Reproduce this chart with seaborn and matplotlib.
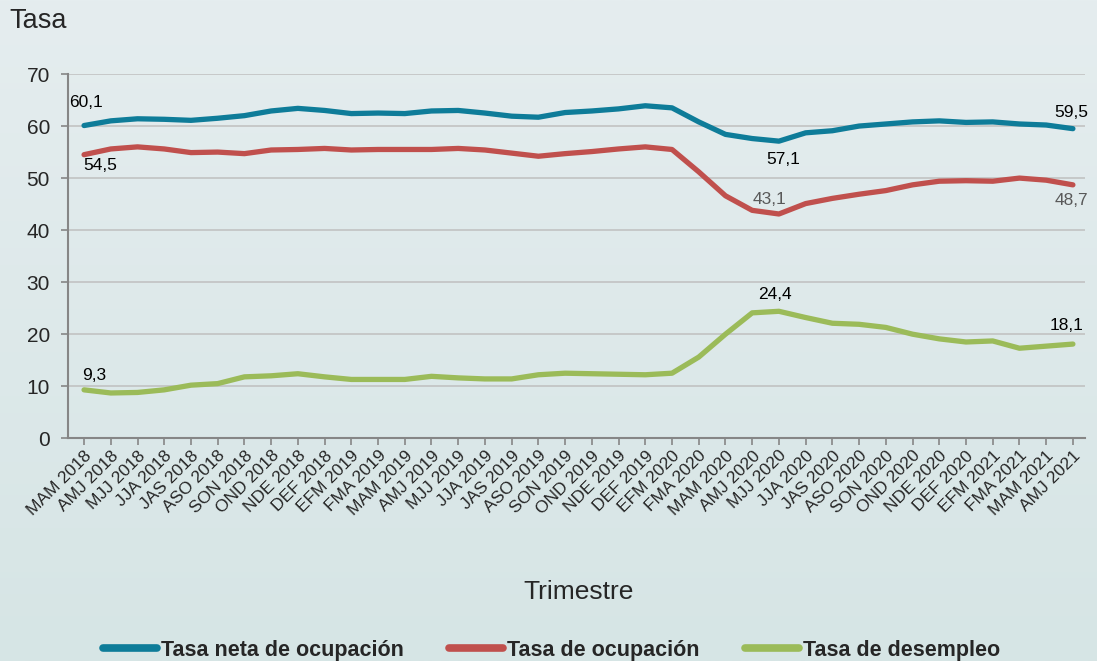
import numpy as np
import pandas as pd
import matplotlib
matplotlib.use('Agg')
import matplotlib.pyplot as plt
import seaborn as sns

# Datos
trimestres = [
    'MAM 2018', 'AMJ 2018', 'MJJ 2018', 'JJA 2018', 'JAS 2018', 'ASO 2018', 'SON 2018',
    'OND 2018', 'NDE 2018', 'DEF 2018', 'EFM 2019', 'FMA 2019', 'MAM 2019', 'AMJ 2019',
    'MJJ 2019', 'JJA 2019', 'JAS 2019', 'ASO 2019', 'SON 2019', 'OND 2019', 'NDE 2019',
    'DEF 2019', 'EFM 2020', 'FMA 2020', 'MAM 2020', 'AMJ 2020', 'MJJ 2020', 'JJA 2020',
    'JAS 2020', 'ASO 2020', 'SON 2020', 'OND 2020', 'NDE 2020', 'DEF 2020', 'EFM 2021',
    'FMA 2021', 'MAM 2021', 'AMJ 2021',
]
tasa_neta = [
    60.1, 61.0, 61.4, 61.3, 61.1, 61.5, 62.0, 62.9, 63.4, 63.0, 62.4, 62.5, 62.4, 62.9,
    63.0, 62.5, 61.9, 61.7, 62.6, 62.9, 63.3, 63.9, 63.5, 60.8, 58.4, 57.6, 57.1, 58.7,
    59.1, 60.0, 60.4, 60.8, 61.0, 60.7, 60.8, 60.4, 60.2, 59.5,
]
tasa_ocupacion = [
    54.5, 55.6, 56.0, 55.6, 54.9, 55.0, 54.7, 55.4, 55.5, 55.7, 55.4, 55.5, 55.5, 55.5,
    55.7, 55.4, 54.8, 54.2, 54.7, 55.1, 55.6, 56.0, 55.5, 51.2, 46.6, 43.8, 43.1, 45.1,
    46.1, 46.9, 47.6, 48.7, 49.4, 49.5, 49.4, 50.0, 49.6, 48.7,
]
tasa_desempleo = [
    9.3, 8.7, 8.8, 9.3, 10.2, 10.5, 11.8, 12.0, 12.4, 11.8, 11.3, 11.3, 11.3, 11.9,
    11.6, 11.4, 11.4, 12.2, 12.5, 12.4, 12.3, 12.2, 12.5, 15.6, 20.0, 24.1, 24.4, 23.2,
    22.1, 21.9, 21.3, 20.0, 19.1, 18.5, 18.7, 17.3, 17.7, 18.1,
]
series = ['Tasa neta de ocupación', 'Tasa de ocupación', 'Tasa de desempleo']
colores = ['#0e7c99', '#c0504d', '#9bbb59']

df = pd.DataFrame({
    'Trimestre': trimestres * 3,
    'Tasa': tasa_neta + tasa_ocupacion + tasa_desempleo,
    'Serie': [s for s in series for _ in trimestres],
})

sns.set_theme(style='white')
plt.rcParams['font.family'] = ['Liberation Sans', 'DejaVu Sans']

fig = plt.figure(figsize=(10.97, 6.61), dpi=100)

# fondo degradado
bg = fig.add_axes([0, 0, 1, 1], zorder=-10)
grad = np.linspace(0, 1, 256).reshape(-1, 1)
top_c = np.array([229, 237, 239]) / 255
bot_c = np.array([214, 229, 229]) / 255
img = top_c * (1 - grad[..., None]) + bot_c * grad[..., None]
bg.imshow(img, aspect='auto', extent=[0, 1, 0, 1])
bg.axis('off')

ax = fig.add_axes([0.062, 0.337, 0.927, 0.551])
ax.set_facecolor('none')
sns.lineplot(data=df, x='Trimestre', y='Tasa', hue='Serie', palette=colores,
             sort=False, linewidth=3.8, ax=ax, legend=False, zorder=3)
for line in ax.lines:
    line.set_solid_capstyle('round')
    line.set_solid_joinstyle('round')

ax.set_ylim(0, 70)
ax.set_xlim(-0.6, len(trimestres) - 1 + 0.45)
ax.set_yticks(range(0, 71, 10))
ax.yaxis.grid(True, color='#bfbfbf', linewidth=1.1, zorder=0)
ax.xaxis.grid(False)
for s in ['top', 'right']:
    ax.spines[s].set_visible(False)
for s in ['left', 'bottom']:
    ax.spines[s].set_color('#868686')
    ax.spines[s].set_linewidth(1.5)
ax.tick_params(axis='y', which='both', left=True, length=5, width=1.2,
               color='#868686', labelsize=15, pad=8)
ax.tick_params(axis='x', which='both', bottom=True, length=5, width=1.2,
               color='#868686', labelsize=12.5, pad=2)
ax.set_xticks(range(len(trimestres)))
ax.set_xticklabels(trimestres, rotation=45, ha='right', rotation_mode='anchor')
ax.set_xlabel('')
ax.set_ylabel('')

# etiquetas de datos
def etiqueta(i, valores, dx, dy, color='black'):
    ax.annotate(f'{valores[i]:.1f}'.replace('.', ','), xy=(i, valores[i]),
                xytext=(dx, dy), textcoords='offset points', ha='center', va='center',
                fontsize=12.5, color=color, zorder=5)

n = len(trimestres) - 1
etiqueta(0, tasa_neta, 1.5, 16.5)
etiqueta(0, tasa_ocupacion, 12, -8)
etiqueta(0, tasa_desempleo, 7, 10)
etiqueta(26, tasa_neta, 3, -13)
etiqueta(26, tasa_ocupacion, -6.5, 10.5, '#595959')
etiqueta(26, tasa_desempleo, -3, 12)
etiqueta(n, tasa_neta, -1, 11.5)
etiqueta(n, tasa_ocupacion, -1, -11.5, '#595959')
etiqueta(n, tasa_desempleo, -4.5, 13.5)

fig.text(0.009, 0.968, 'Tasa', fontsize=19.5, ha='left', va='center')
fig.text(0.527, 0.104, 'Trimestre', fontsize=19, ha='center', va='center')

handles = [plt.Line2D([0], [0], color=c, linewidth=5.5, solid_capstyle='round') for c in colores]
fig.legend(handles, series, loc='center', bbox_to_anchor=(0.503, 0.016), ncol=3,
           frameon=False, handlelength=2.5, handletextpad=0.2, columnspacing=2.1,
           prop={'size': 15.5, 'weight': 'bold'})

fig.savefig('out.png', dpi=100)
